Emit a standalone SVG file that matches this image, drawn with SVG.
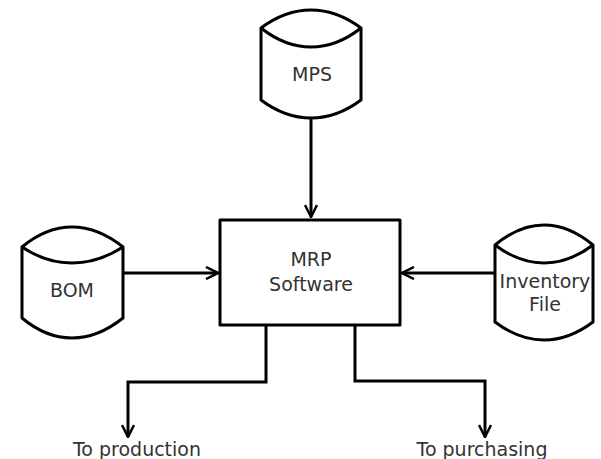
<svg xmlns="http://www.w3.org/2000/svg" width="601" height="459" viewBox="0 0 601 459">
<style>
.sh{fill:#fff;stroke:#000;stroke-width:3;stroke-linejoin:round}
.ln{fill:none;stroke:#000;stroke-width:3}
.t{font-family:"DejaVu Sans",sans-serif;font-size:19px;fill:#333;text-anchor:middle}
</style>
<defs>
<marker id="ah" viewBox="0 0 14 14" refX="13" refY="7" markerWidth="14" markerHeight="14" markerUnits="userSpaceOnUse" orient="auto">
<path d="M1,1 L13,7 L1,13" fill="none" stroke="#000" stroke-width="2.5"/>
</marker>
</defs>
<g id="connectors">
<path class="ln" d="M311,118 V217" marker-end="url(#ah)"/>
<path class="ln" d="M123,273 H218" marker-end="url(#ah)"/>
<path class="ln" d="M495,273 H402" marker-end="url(#ah)"/>
<path class="ln" d="M266,325 V382 H128 V437" marker-end="url(#ah)"/>
<path class="ln" d="M355,325 V381 H485 V437" marker-end="url(#ah)"/>
</g>
<g id="mps">
<path class="sh" d="M261,28 Q285,10 311,10 Q337,10 361,28 V100 Q337,118 311,118 Q285,118 261,100 Z"/>
<path class="ln" d="M261,28 Q285,47 311,47 Q337,47 361,28"/>
<text class="t" x="312" y="81">MPS</text>
</g>
<g id="bom">
<path class="sh" d="M22,247 Q46,227 72,227 Q98,227 123,247 V318 Q98,338 72,338 Q46,338 22,318 Z"/>
<path class="ln" d="M22,247 Q46,263 72,263 Q98,263 123,247"/>
<text class="t" x="72" y="297">BOM</text>
</g>
<g id="mrp">
<rect class="sh" x="220" y="220" width="180" height="105"/>
<text class="t" x="311" y="266">MRP</text>
<text class="t" x="311" y="291">Software</text>
</g>
<g id="inventory">
<path class="sh" d="M495,245 Q519,225 544,225 Q569,225 593,245 V322 Q569,340 544,340 Q519,340 495,322 Z"/>
<path class="ln" d="M495,245 Q519,263 544,263 Q569,263 593,245"/>
<text class="t" x="545" y="288">Inventory</text>
<text class="t" x="545" y="311">File</text>
</g>
<g id="labels">
<text class="t" x="137" y="456">To production</text>
<text class="t" x="482" y="456">To purchasing</text>
</g>
</svg>
